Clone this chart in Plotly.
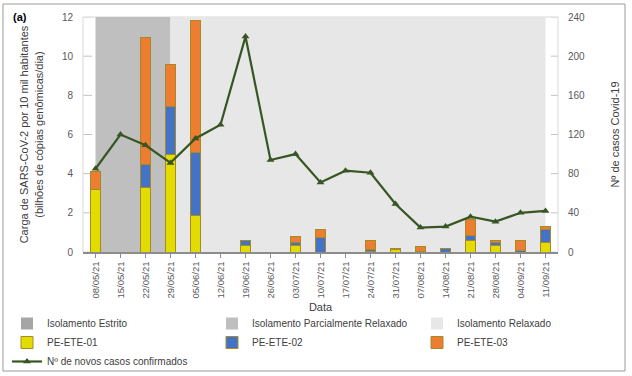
import plotly.graph_objects as go

dates = ["08/05/21", "15/05/21", "22/05/21", "29/05/21", "05/06/21", "12/06/21",
         "19/06/21", "26/06/21", "03/07/21", "10/07/21", "17/07/21", "24/07/21",
         "31/07/21", "07/08/21", "14/08/21", "21/08/21", "28/08/21", "04/09/21",
         "11/09/21"]

ete01 = [3.18, None, 3.31, 4.98, 1.88, None, 0.34, None, 0.31, 0.00, None, 0.02,
         0.15, 0.00, 0.00, 0.60, 0.34, 0.00, 0.51]
ete02 = [0.02, None, 1.15, 2.43, 3.18, None, 0.26, None, 0.15, 0.73, None, 0.12,
         0.00, 0.01, 0.20, 0.22, 0.14, 0.08, 0.63]
ete03 = [0.93, None, 6.47, 2.18, 6.77, None, 0.00, None, 0.33, 0.44, None, 0.47,
         0.02, 0.25, 0.00, 0.85, 0.10, 0.53, 0.16]

cases = [85, 120, 109, 91, 116, 130, 220, 94, 100, 71, 83, 81, 49, 25, 26, 36, 31, 40, 42]

phase_names = ["Isolamento Estrito", "Isolamento Parcialmente Relaxado", "Isolamento Relaxado"]
phase_colors = ["#a6a6a6", "#bfbfbf", "#e7e7e7"]
# shaded spans drawn on the chart (phase index, start, end)
phase_spans = [(1, "08/05/21", "29/05/21"), (2, "29/05/21", "11/09/21")]

left_ticks = [0, 2, 4, 6, 8, 10, 12]
right_ticks = [0, 40, 80, 120, 160, 200, 240]

FONT = "Liberation Sans, Arial, sans-serif"
TXT = "#595959"
OUTLINE = "#a68a2a"
GRID = "#c2c2c2"

fig = go.Figure()

# legend entries for the shading phases
groups = ["g1", "g2", "g3"]
widths = [160, 160, 100]
for i, name in enumerate(phase_names):
    fig.add_trace(go.Bar(x=[None], y=[None], name=name, marker_color=phase_colors[i],
                         marker_line_width=0, legendgroup=groups[i],
                         legendwidth=widths[i], showlegend=True))

series = [("PE-ETE-01", ete01, "#e3dc00"), ("PE-ETE-02", ete02, "#4472c4"),
          ("PE-ETE-03", ete03, "#ed7d31")]
for i, (name, vals, col) in enumerate(series):
    fig.add_trace(go.Bar(x=dates, y=vals, name=name, width=0.41,
                         marker=dict(color=col, line=dict(color=OUTLINE, width=1)),
                         legendgroup=groups[i], legendwidth=widths[i]))

fig.add_trace(go.Scatter(x=dates, y=cases, name="Nº de novos casos confirmados",
                         mode="lines+markers", yaxis="y2",
                         line=dict(color="#375623", width=2.2),
                         marker=dict(symbol="triangle-up", size=7, color="#375623"),
                         legendgroup="g1", legendwidth=widths[0]))

shapes = []
for idx, x0, x1 in phase_spans:
    shapes.append(dict(type="rect", xref="x", yref="y", x0=x0, x1=x1,
                       y0=left_ticks[0], y1=left_ticks[-1],
                       fillcolor=phase_colors[idx], line_width=0, layer="below"))
# dashed gridlines drawn over the shading
for t in left_ticks[1:]:
    shapes.append(dict(type="line", xref="x domain", yref="y", x0=0, x1=1, y0=t, y1=t,
                       line=dict(color=GRID, width=1, dash="dash"), layer="below"))
# plot area border
shapes.append(dict(type="rect", xref="paper", yref="paper", x0=0, x1=1, y0=0, y1=1,
                   line=dict(color="#d9d9d9", width=1), layer="below"))
# outer frame
shapes.append(dict(type="rect", xref="paper", yref="paper",
                   x0=(3 - 83) / 475, x1=(625 - 83) / 475,
                   y0=(252 - 371) / 235, y1=(252 - 4) / 235,
                   line=dict(color="#9a9a9a", width=1)))

fig.update_layout(
    width=632, height=376,
    margin=dict(l=83, r=74, t=17, b=124, autoexpand=False),
    paper_bgcolor="white", plot_bgcolor="white",
    barmode="stack",
    font=dict(family=FONT, size=10, color=TXT),
    shapes=shapes,
    xaxis=dict(type="category", categoryorder="array", categoryarray=dates,
               range=[-0.5, len(dates) - 0.5], automargin=False,
               tickangle=-90, tickfont=dict(size=9.5, color=TXT),
               ticks="outside", ticklen=4, tickcolor="#8c8c8c",
               showline=True, linecolor="#8c8c8c", linewidth=1.5,
               showgrid=False,
               title=dict(text="Data", font=dict(size=11, color="#404040"), standoff=6)),
    yaxis=dict(range=[0, 12], tickvals=left_ticks, showline=False, automargin=False,
               showgrid=False, zeroline=False, ticklabelstandoff=9,
               tickfont=dict(size=10, color=TXT),
               title=dict(text="Carga de SARS-CoV-2 por 10 mil habitantes<br>(bilhões de cópias genômicas/dia)",
                          font=dict(size=11, color="#404040"), standoff=16)),
    yaxis2=dict(range=[0, 240], tickvals=right_ticks, overlaying="y", side="right",
                automargin=False,
                showgrid=False, zeroline=False, showline=False, ticklabelstandoff=9,
                tickfont=dict(size=10, color=TXT),
                title=dict(text="Nº de casos Covid-19",
                           font=dict(size=11, color="#404040"), standoff=27)),
    legend=dict(orientation="h", traceorder="grouped", x=(7 - 83) / 475, xanchor="left",
                y=(252 - 309) / 235, yanchor="top", font=dict(size=10, color="#404040"),
                bgcolor="rgba(0,0,0,0)", groupclick="toggleitem", tracegroupgap=0),
    annotations=[dict(text="<b>(a)</b>", xref="paper", yref="paper",
                      x=(11 - 83) / 475, y=(252 - 17) / 235, xanchor="left",
                      yanchor="middle", showarrow=False,
                      font=dict(size=11, color="#000000"))],
    bargap=0.5,
)

fig.write_html("out.html", config={"displayModeBar": False},
               post_script="document.body.style.margin='0';document.body.style.overflow='hidden';")
